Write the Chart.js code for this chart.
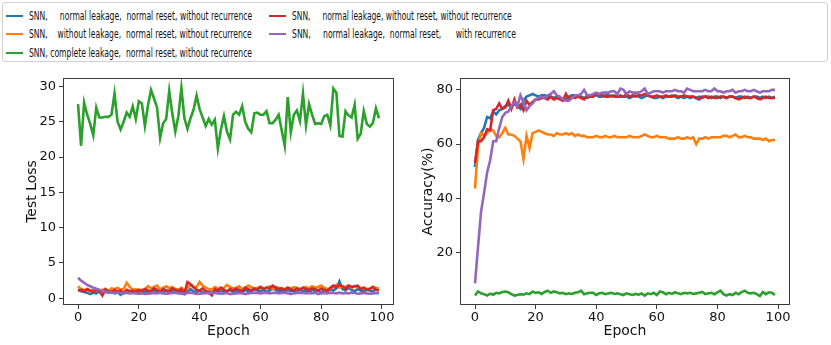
<!DOCTYPE html>
<html>
<head>
<meta charset="utf-8">
<script src="https://cdn.jsdelivr.net/npm/chart.js@4/dist/chart.umd.min.js"></script>
<style>
  html,body{margin:0;padding:0;background:#fff;width:831px;height:345px;overflow:hidden;font-family:"DejaVu Sans",sans-serif;}
  #legend{position:absolute;left:2px;top:2px;width:824px;height:58px;border:1px solid #d0d0d0;border-radius:3px;}
  .item{position:absolute;height:16px;}
  .swatch{position:absolute;top:7px;width:17px;height:2px;}
  .txt{position:absolute;top:0;white-space:pre;font-size:12px;line-height:16px;color:#111;transform-origin:left center;display:inline-block;}
  .box{position:absolute;}
</style>
</head>
<body>
<div id="legend"></div>
<div class="box" style="left:0;top:65px;width:420px;height:280px;"><canvas id="loss"></canvas></div>
<div class="box" style="left:410px;top:65px;width:421px;height:280px;"><canvas id="acc"></canvas></div>
<script>
// ---------- data ----------
const seriesNames = [
  "SNN,     normal leakage,  normal reset, without recurrence",
  "SNN,    without leakage,  normal reset, without recurrence",
  "SNN, complete leakage,  normal reset, without recurrence",
  "SNN,     normal leakage, without reset, without recurrence",
  "SNN,     normal leakage,  normal reset,      with recurrence"
];
const seriesColors = ["#1f77b4", "#ff7f0e", "#2ca02c", "#d62728", "#9467bd"];
const epochs = Array.from({length: 100}, (_, i) => i);

const lossXTicks = [0, 20, 40, 60, 80, 100];
const lossYTicks = [0, 5, 10, 15, 20, 25, 30];
const accXTicks = [0, 20, 40, 60, 80, 100];
const accYTicks = [20, 40, 60, 80];

const lossBlue = [
  1.2, 1.0, 0.9, 0.8, 0.6, 0.8, 0.7, 1.0, 1.1, 0.9,
  0.8, 1.0, 0.7, 0.9, 0.5, 0.8, 1.0, 0.9, 0.8, 1.0,
  0.9, 1.1, 0.8, 1.0, 0.9, 1.2, 0.8, 1.0, 0.9, 1.1,
  0.8, 1.0, 0.9, 1.2, 0.7, 1.0, 0.9, 1.3, 1.0, 0.9,
  1.1, 0.8, 1.0, 0.9, 1.2, 1.0, 0.8, 1.1, 0.9, 1.0,
  1.2, 0.9, 1.1, 1.0, 0.8, 1.2, 1.0, 0.9, 1.3, 1.1,
  1.0, 1.2, 0.9, 1.1, 1.4, 1.2, 1.0, 1.1, 0.9, 1.2,
  1.0, 1.1, 0.9, 1.3, 1.0, 1.1, 0.9, 1.2, 1.0, 1.1,
  0.8, 1.2, 1.0, 1.3, 1.1, 1.4, 2.4, 1.3, 1.1, 1.5,
  1.2, 1.0, 1.3, 1.1, 1.0, 1.2, 1.1, 1.0, 1.3, 1.2
];
const lossOrange = [
  1.7, 1.3, 1.2, 1.1, 1.0, 1.2, 1.3, 1.1, 1.2, 1.3,
  1.0, 1.4, 1.3, 1.5, 1.2, 1.3, 2.2, 1.6, 1.2, 1.3,
  1.1, 1.2, 1.3, 1.7, 1.4, 1.6, 1.8, 1.3, 1.5, 1.7,
  1.4, 1.6, 1.3, 1.2, 1.5, 1.1, 1.4, 1.9, 1.5, 1.6,
  2.3, 1.8, 1.5, 1.3, 1.2, 1.6, 1.4, 1.3, 1.5, 1.9,
  1.6, 1.4, 1.5, 1.7, 1.3, 1.5, 1.8, 1.6, 1.4, 1.5,
  1.6, 1.4, 1.5, 1.7, 1.3, 1.6, 1.5, 1.4, 1.3, 1.5,
  1.4, 1.6, 1.5, 1.3, 1.5, 1.6, 1.4, 1.7, 1.5, 1.6,
  1.8, 1.5, 1.3, 1.4, 1.6, 1.9, 1.5, 1.7, 1.6, 1.8,
  1.5, 1.7, 1.6, 1.4, 1.5, 1.3, 1.4, 1.6, 1.5, 1.4
];
const lossGreen = [
  27.5, 21.6, 27.7, 26.0, 24.7, 23.1, 27.0, 25.6, 25.6, 25.7,
  25.7, 26.0, 29.0, 25.0, 23.9, 25.0, 26.3, 25.7, 27.2, 25.4,
  27.9, 27.6, 24.4, 27.3, 29.5, 28.3, 27.0, 22.7, 24.8, 25.4,
  29.4, 26.2, 23.6, 25.8, 29.8, 25.5, 24.0, 25.5, 26.7, 28.7,
  26.8, 25.6, 24.4, 25.4, 24.6, 25.3, 21.2, 23.9, 25.8, 23.6,
  22.5, 26.0, 26.4, 26.0, 27.2, 25.0, 24.0, 23.5, 26.2, 26.3,
  26.0, 26.0, 26.5, 24.8, 24.8, 25.3, 26.0, 23.8, 21.6, 28.5,
  23.5, 26.0, 26.6, 25.1, 29.0, 24.5, 27.5, 26.0, 24.7, 24.8,
  24.7, 25.8, 26.0, 24.5, 29.7, 29.1, 23.0, 22.9, 26.5, 25.9,
  25.6, 27.4, 22.6, 23.3, 26.5, 24.7, 24.3, 24.8, 26.9, 25.5
];
const lossRed = [
  1.1, 1.2, 1.0, 1.3, 1.1, 0.9, 1.2, 1.0, 0.4, 1.3,
  1.0, 0.8, 1.2, 0.9, 1.1, 0.7, 1.2, 1.0, 1.1, 0.9,
  1.2, 1.0, 1.3, 1.1, 1.0, 1.4, 1.2, 0.9, 1.3, 1.1,
  1.0, 1.4, 1.2, 1.0, 1.3, 0.7, 2.3, 2.0, 1.6, 1.2,
  1.1, 1.4, 1.0, 0.8, 0.4, 1.3, 1.1, 1.5, 1.2, 1.0,
  1.3, 1.1, 1.4, 1.2, 1.0, 1.5, 1.3, 1.1, 1.4, 1.2,
  1.6, 1.3, 1.5, 1.4, 1.8, 1.5, 1.3, 1.4, 1.2, 1.5,
  1.3, 1.1, 1.4, 1.2, 1.5, 1.3, 1.2, 1.4, 1.3, 1.1,
  1.4, 1.2, 1.0, 1.5, 1.8, 1.6, 1.9, 1.7, 1.3, 1.8,
  1.6, 1.7, 1.8, 1.3, 1.5, 1.2, 1.3, 1.6, 1.2, 1.1
];
const lossPurple = [
  2.9, 2.5, 2.2, 1.9, 1.7, 1.5, 1.35, 1.2, 1.05, 0.95,
  0.85, 0.8, 0.75, 0.8, 0.7, 0.75, 0.8, 0.7, 0.75, 0.7,
  0.65, 0.7, 0.6, 0.65, 0.7, 0.75, 0.7, 0.8, 0.7, 0.65,
  0.7, 0.75, 0.8, 0.7, 0.65, 0.6, 0.75, 0.8, 0.7, 0.6,
  0.65, 0.7, 0.75, 0.7, 0.8, 0.75, 0.7, 0.65, 0.7, 0.75,
  0.6, 0.65, 0.7, 0.75, 0.7, 0.6, 0.7, 0.75, 0.8, 0.75,
  0.7, 0.75, 0.8, 0.7, 0.75, 0.8, 0.7, 0.75, 0.8, 0.7,
  0.6, 0.7, 0.75, 0.8, 0.75, 0.7, 0.75, 0.7, 0.8, 0.6,
  0.7, 0.75, 0.7, 0.8, 0.75, 0.7, 0.8, 0.7, 0.75, 0.7,
  0.8, 0.75, 0.65, 0.7, 0.75, 0.7, 0.65, 0.7, 0.75, 0.7
];

const accBlue = [
  51.5, 61.5, 64, 66, 70, 69.5, 72, 71, 72.5, 73,
  74, 74.5, 73.5, 75, 74, 73, 76, 77.5, 78, 78.5,
  78, 77.5, 78, 78, 77.5, 77.5, 77, 77.5, 77, 76.5,
  76.5, 77.5, 78, 78, 77.5, 77.5, 77, 77, 77.5, 78,
  78, 77.5, 77.5, 78, 78, 77.5, 78, 77.5, 77.5, 77.5,
  77.5, 77, 77.5, 78, 77.5, 77, 77.5, 78, 77.5, 77,
  77, 77.5, 77, 77.5, 77.5, 78, 77.5, 77, 77.5, 77,
  77.5, 77, 77.5, 77, 77.5, 77, 77.5, 77.5, 77, 77.5,
  77.5, 77, 77.5, 77, 77.5, 77.5, 77, 77.5, 77.5, 77,
  77.5, 77, 77.5, 77.5, 77, 77.5, 77, 77.5, 77, 77.5
];
const accOrange = [
  43.5, 59, 64, 63, 64, 65.5, 65, 63, 62.5, 64,
  66, 63.5, 63.5, 63, 62, 61, 54.5, 63, 58.5, 64,
  64.5, 65, 64.5, 64, 63.5, 63.5, 63, 64, 63.5, 63.5,
  64, 63.5, 64, 63, 63.5, 63, 63, 62.5, 62.5, 62.5,
  63, 62.5, 62.5, 63, 62.5, 62.5, 63, 62.5, 62.5, 62.5,
  62.5, 63, 62.5, 62.5, 62.5, 63, 63.5, 63, 62.5, 62.5,
  63, 62.5, 62.5, 62.5, 62, 62, 62, 62.5, 62, 62,
  62.5, 62, 62.5, 60, 62, 62, 62.5, 62, 62.5, 62.5,
  62.5, 62.5, 63, 63, 62.5, 63, 63.5, 62.5, 62.5, 63,
  62.5, 62.5, 62, 62, 62, 61.5, 62, 61, 61.5, 61.5
];
const accGreen = [
  4, 5.5, 4.8, 4.5, 4, 4.7, 4.3, 5, 4.8, 5.3,
  5.5, 5.2, 4.5, 4, 4.2, 4.5, 4.3, 4.8, 4.5, 5.5,
  5, 5.2, 4.6, 5.3, 5.8, 5, 5.5, 5.2, 4.8, 5,
  4.5, 4.8, 4.6, 5, 5.2, 5.8, 4.5, 4.8, 5, 5,
  4.2, 4.8, 5, 4.5, 4.8, 5, 4.6, 4.8, 4.5, 4.2,
  4.8, 4.5, 4.2, 4.6, 4.3, 4.8, 4, 4.8, 4.5, 5,
  4.2, 5.5, 5.2, 4.5, 5, 4.6, 5.2, 4.8, 4.5, 5,
  4.8, 5, 4.6, 4.8, 5, 5.3, 4.5, 4.8, 5, 4.5,
  5.2, 5.8, 4.5, 4, 4.5, 4.2, 5, 4.5, 5.3, 5.8,
  5, 4.8, 5, 4.5, 3.8, 5.3, 4.5, 5.2, 5, 4.2
];
const accRed = [
  53, 61, 61, 62.5, 65.5, 65, 72.5, 73, 75, 73,
  73.5, 76, 73, 76.5, 73.5, 74.5, 72.5, 76, 74.5, 75.5,
  76.5, 76.5, 77, 77, 76.5, 77.5, 76.5, 77, 76.5, 76,
  78.5, 76.5, 77.5, 77, 77.5, 77, 76.5, 78, 77.5, 77.5,
  78.5, 78, 78, 77.5, 77.5, 78, 77.5, 77.5, 78, 77.5,
  78.5, 77.5, 78, 77.5, 78, 78, 78.5, 78, 77.5, 77.5,
  78, 77.5, 77.5, 78, 77.5, 77.5, 78, 77.5, 77.5, 78,
  77.5, 77.5, 77.5, 77, 76.5, 77.5, 77.5, 77, 77.5, 77,
  77, 77.5, 77.5, 77, 77.5, 77.5, 77, 76.5, 77, 77.5,
  77, 77, 77.5, 77, 76.5, 77, 77.5, 77, 77, 77
];
const accPurple = [
  8.5, 22, 35, 42, 49.5, 54, 61, 61, 66, 70,
  71.5, 72, 74, 75.5, 74, 78, 75.5, 72.5, 74, 75,
  76.5, 77, 77.5, 77, 78, 78.5, 79.5, 78, 77.5, 76.5,
  76, 76, 77, 78, 78, 78.5, 80, 78, 78, 78.5,
  79, 78.5, 79, 79, 79, 79.5, 79.5, 78.5, 80.5, 80,
  78.5, 79.5, 79, 79, 79, 79.5, 80.5, 78.5, 79, 79.5,
  79.5, 79.5, 79, 79.5, 79.5, 79.5, 80, 79.5, 79.5, 79,
  80.5, 80, 79.5, 79.5, 79.5, 79.5, 80, 79.5, 79.5, 80.5,
  79.5, 79.5, 79, 79.5, 79.5, 80, 79, 79.5, 79.5, 80,
  79.5, 79.5, 80, 79.5, 79, 79.5, 79.5, 79.5, 80, 80
];

// ---------- legend (HTML) ----------
const legendLayout = [
  {col: 0, row: 0, end: 252}, {col: 0, row: 1, end: 252}, {col: 0, row: 2, end: 252},
  {col: 1, row: 0, end: 512}, {col: 1, row: 1, end: 516}
];
const legendEl = document.getElementById('legend');
const colX = [[3, 26], [266, 289]]; // swatch x, text x (relative to legend box)
const rowY = [5, 23, 42];
seriesNames.forEach((name, i) => {
  const L = legendLayout[i];
  const item = document.createElement('div');
  item.className = 'item';
  item.style.left = '0px';
  item.style.top = rowY[L.row] + 'px';
  const sw = document.createElement('div');
  sw.className = 'swatch';
  sw.style.left = colX[L.col][0] + 'px';
  sw.style.background = seriesColors[i];
  const tx = document.createElement('span');
  tx.className = 'txt';
  tx.style.left = colX[L.col][1] + 'px';
  tx.textContent = name;
  item.appendChild(sw); item.appendChild(tx);
  legendEl.appendChild(item);
  const target = L.end - 3 - colX[L.col][1];
  const w = tx.offsetWidth;
  tx.style.transform = 'scaleX(' + (target / w) + ')';
});

// ---------- charts ----------
const framePlugin = {
  id: 'frame',
  afterDatasetsDraw(chart) {
    const {ctx, chartArea: a} = chart;
    ctx.save();
    ctx.strokeStyle = '#3a3a3a';
    ctx.lineWidth = 1;
    ctx.strokeRect(Math.round(a.left) + 0.5, Math.round(a.top) + 0.5,
                   Math.round(a.right - a.left) - 1, Math.round(a.bottom - a.top) - 1);
    ctx.restore();
  }
};

function pts(arr) { return arr.map((v, i) => ({x: epochs[i], y: v})); }

function makeDatasets(list) {
  // matplotlib draw order: later series on top
  return list.map((arr, i) => ({
    label: seriesNames[i],
    data: pts(arr),
    borderColor: seriesColors[i],
    backgroundColor: seriesColors[i],
    borderWidth: 2.6,
    pointRadius: 0,
    tension: 0,
    fill: false,
    order: list.length - i
  }));
}

function makeChart(id, datasets, cfg) {
  const tickFont = {family: 'DejaVu Sans', size: 13};
  const titleFont = {family: 'DejaVu Sans', size: 14};
  return new Chart(document.getElementById(id), {
    type: 'line',
    data: {datasets},
    options: {
      responsive: true,
      maintainAspectRatio: false,
      animation: false,
      layout: {padding: cfg.padding},
      plugins: {legend: {display: false}, tooltip: {enabled: false}},
      scales: {
        x: {
          type: 'linear',
          min: cfg.xMin, max: cfg.xMax,
          afterBuildTicks: s => { s.ticks = cfg.xTicks.map(v => ({value: v})); },
          afterFit: s => { s.height = 40; },
          ticks: {font: tickFont, color: '#111', padding: 1, maxRotation: 0, autoSkip: false},
          grid: {display: true, drawOnChartArea: false, drawTicks: true, tickLength: 4, color: '#3a3a3a'},
          border: {display: false},
          title: {display: true, text: 'Epoch', font: titleFont, color: '#111', padding: {top: 0, bottom: cfg.xTitlePad}}
        },
        y: {
          type: 'linear',
          min: cfg.yMin, max: cfg.yMax,
          afterBuildTicks: s => { s.ticks = cfg.yTicks.map(v => ({value: v})); },
          afterFit: s => { s.width = cfg.yWidth; },
          ticks: {font: tickFont, color: '#111', padding: 3, autoSkip: false},
          grid: {display: true, drawOnChartArea: false, drawTicks: true, tickLength: 4, color: '#3a3a3a'},
          border: {display: false},
          title: {display: true, text: cfg.yTitle, font: titleFont, color: '#111', padding: {top: cfg.yTitlePad, bottom: 0}}
        }
      }
    },
    plugins: [framePlugin]
  });
}

makeChart('loss', makeDatasets([lossBlue, lossOrange, lossGreen, lossRed, lossPurple]), {
  padding: {top: 13, right: 26, left: 0, bottom: 0},
  xMin: -4.95, xMax: 103.95, xTicks: lossXTicks,
  yMin: -0.95, yMax: 31.2, yTicks: lossYTicks,
  yWidth: 63, yTitle: 'Test Loss', yTitlePad: 24, xTitlePad: 5
});
makeChart('acc', makeDatasets([accBlue, accOrange, accGreen, accRed, accPurple]), {
  padding: {top: 13, right: 41, left: 0, bottom: 0},
  xMin: -4.95, xMax: 103.95, xTicks: accXTicks,
  yMin: 0.5, yMax: 84.4, yTicks: accYTicks,
  yWidth: 50, yTitle: 'Accuracy(%)', yTitlePad: 10, xTitlePad: 5
});
</script>
</body>
</html>
